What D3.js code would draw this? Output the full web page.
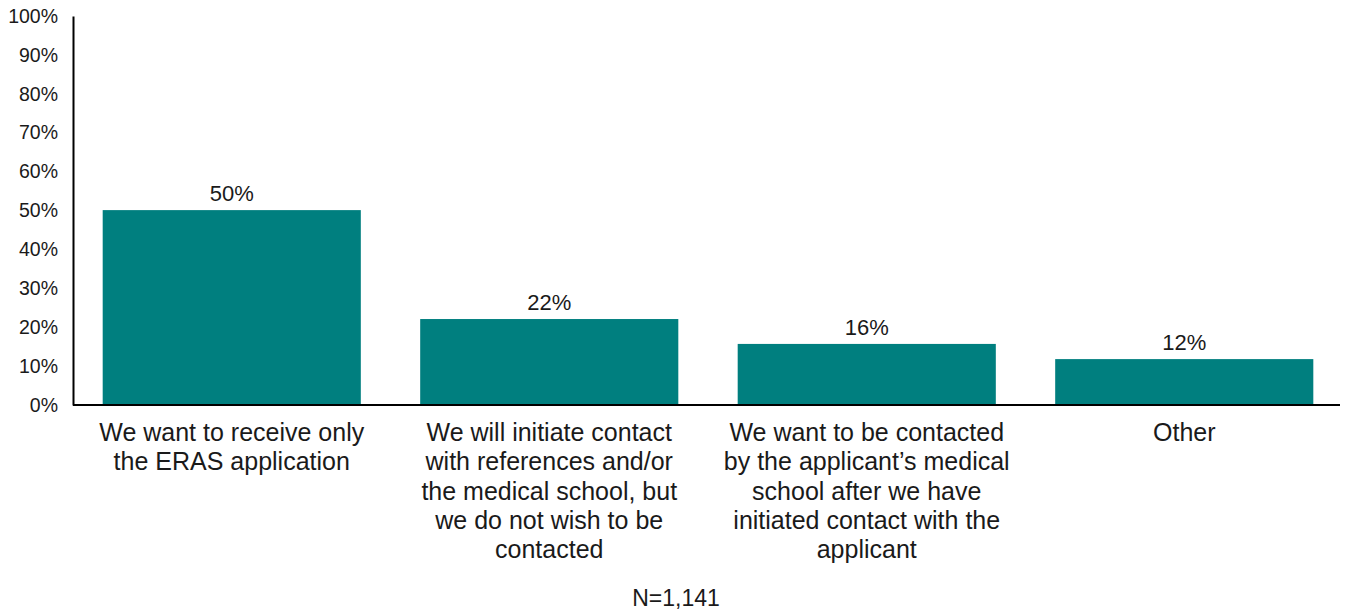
<!DOCTYPE html>
<html>
<head>
<meta charset="utf-8">
<script src="https://cdn.jsdelivr.net/npm/d3@7"></script>
<style>
  body { margin: 0; background: #fff; }
  svg { font-family: "Liberation Sans", Arial, sans-serif; }
</style>
</head>
<body>
<svg id="chart" width="1346" height="613"></svg>
<script>
// categories, one array of lines per bar
var categories = [
    ["We want to receive only", "the ERAS application"],
    ["We will initiate contact", "with references and/or", "the medical school, but", "we do not wish to be", "contacted"],
    ["We want to be contacted", "by the applicant\u2019s medical", "school after we have", "initiated contact with the", "applicant"],
    ["Other"]
];
var values = [50.1, 22.1, 15.7, 11.8];
var valueLabels = ["50%", "22%", "16%", "12%"];
var yTicks = [0, 10, 20, 30, 40, 50, 60, 70, 80, 90, 100];
var note = "N=1,141";

var svg = d3.select("#chart");
var plotLeft = 73, plotRight = 1343, plotTop = 16, plotBottom = 405;

var x = d3.scaleBand()
    .domain(d3.range(categories.length))
    .range([plotLeft, plotRight])
    .paddingInner(0.187)
    .paddingOuter(0.0935);

var y = d3.scaleLinear()
    .domain([0, 100])
    .range([plotBottom, plotTop]);

// y axis
var yAxis = svg.append("g")
    .attr("transform", "translate(" + plotLeft + ",0)")
    .call(d3.axisLeft(y).tickValues(yTicks).tickSize(0).tickPadding(15)
        .tickFormat(function(d) { return d + "%"; }));
yAxis.select(".domain").attr("stroke", "#000").attr("stroke-width", 2);
yAxis.selectAll("text")
    .attr("font-size", "19.5px")
    .attr("fill", "#1a1a1a")
    .attr("font-family", "Liberation Sans, Arial, sans-serif");

// bars
svg.selectAll("rect.bar")
    .data(values)
    .enter()
    .append("rect")
    .attr("class", "bar")
    .attr("x", function(d, i) { return x(i); })
    .attr("y", function(d) { return y(d); })
    .attr("width", x.bandwidth())
    .attr("height", function(d) { return y(0) - y(d); })
    .attr("fill", "#007f7f");

// x axis line
svg.append("line")
    .attr("x1", plotLeft)
    .attr("x2", 1340)
    .attr("y1", y(0))
    .attr("y2", y(0))
    .attr("stroke", "#000")
    .attr("stroke-width", 2);

// value labels
svg.selectAll("text.value")
    .data(values)
    .enter()
    .append("text")
    .attr("class", "value")
    .attr("x", function(d, i) { return x(i) + x.bandwidth() / 2; })
    .attr("y", function(d) { return y(d) - 9; })
    .attr("text-anchor", "middle")
    .attr("font-size", "22px")
    .attr("fill", "#1a1a1a")
    .text(function(d, i) { return valueLabels[i]; });

// category labels
var cat = svg.selectAll("text.cat")
    .data(categories)
    .enter()
    .append("text")
    .attr("class", "cat")
    .attr("text-anchor", "middle")
    .attr("font-size", "25px")
    .attr("fill", "#1a1a1a");

cat.selectAll("tspan")
    .data(function(d, i) { return d.map(function(t) { return [t, i]; }); })
    .enter()
    .append("tspan")
    .attr("x", function(d) { return x(d[1]) + x.bandwidth() / 2; })
    .attr("y", function(d, j) { return 441 + j * 29.3; })
    .text(function(d) { return d[0]; });

// sample size note
svg.append("text")
    .attr("x", 676)
    .attr("y", 606)
    .attr("text-anchor", "middle")
    .attr("font-size", "23px")
    .attr("fill", "#1a1a1a")
    .text(note);
</script>
</body>
</html>
